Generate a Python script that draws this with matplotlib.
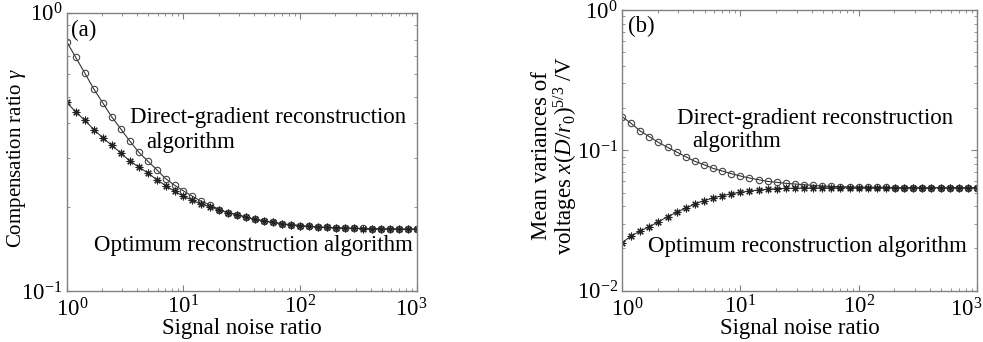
import numpy as np
import matplotlib
matplotlib.use("Agg")
import matplotlib.pyplot as plt
from matplotlib.ticker import LogLocator, LogFormatterMathtext, NullFormatter, FuncFormatter

plt.rcParams['font.family'] = ['Liberation Serif', 'DejaVu Serif']
plt.rcParams['mathtext.fontset'] = 'custom'
plt.rcParams['mathtext.rm'] = 'Liberation Serif'
plt.rcParams['mathtext.it'] = 'Liberation Serif:italic'
plt.rcParams['mathtext.bf'] = 'Liberation Serif:bold'

# Signal noise ratio samples (40 log-spaced points from 1 to 1000)
snr = np.logspace(0, 3, 40)
x_edge_ticks = [1, 1000]

# (a) Compensation ratio
comp_direct = [0.787, 0.691, 0.608, 0.533, 0.475, 0.423, 0.383, 0.3465, 0.316, 0.2935,
               0.2733, 0.2536, 0.240, 0.229, 0.219, 0.210, 0.204, 0.196, 0.191, 0.188,
               0.184, 0.181, 0.1786, 0.1766, 0.1742, 0.1732, 0.1718, 0.1708, 0.1699, 0.1693,
               0.1688, 0.1684, 0.1681, 0.1678, 0.1676, 0.1674, 0.1672, 0.1671, 0.1670, 0.1669]
comp_optimum = [0.476, 0.4406, 0.411, 0.3805, 0.356, 0.334, 0.3137, 0.2935, 0.2794, 0.266,
                0.2516, 0.2393, 0.2284, 0.219, 0.212, 0.205, 0.2006, 0.195, 0.1913, 0.188,
                0.184, 0.181, 0.1785, 0.1765, 0.1741, 0.1731, 0.1717, 0.1707, 0.1698, 0.1692,
                0.1687, 0.1683, 0.1680, 0.1677, 0.1675, 0.1673, 0.1672, 0.1671, 0.1670, 0.1669]

# (b) Mean variances of voltages
var_direct = [0.1738, 0.1558, 0.1374, 0.1252, 0.114, 0.1051, 0.0973, 0.0902, 0.0835, 0.0791,
              0.0744, 0.0713, 0.0682, 0.0657, 0.0635, 0.0618, 0.0601, 0.0592, 0.0582, 0.0576,
              0.0569, 0.0563, 0.0557, 0.0554, 0.0551, 0.0549, 0.0547, 0.0546, 0.0545, 0.0544,
              0.0543, 0.0543, 0.0542, 0.0542, 0.0542, 0.0542, 0.0542, 0.0542, 0.0542, 0.0542]
var_optimum = [0.02199, 0.02453, 0.02662, 0.0286, 0.031, 0.0337, 0.0362, 0.0388, 0.0415, 0.0438,
               0.0458, 0.0475, 0.0491, 0.0502, 0.0513, 0.0522, 0.0528, 0.0533, 0.0536, 0.0538,
               0.0539, 0.0540, 0.0540, 0.0541, 0.0541, 0.0541, 0.0541, 0.0542, 0.0542, 0.0542,
               0.0542, 0.0542, 0.0542, 0.0542, 0.0542, 0.0542, 0.0542, 0.0542, 0.0542, 0.0542]

FS = 16.5
line_col = '#333333'
spine_col = '#808080'

fig = plt.figure(figsize=(9.83, 3.42), dpi=100)
ax_a = fig.add_axes([0.0679, 0.149, 0.3563, 0.8137])
ax_b = fig.add_axes([0.6328, 0.150, 0.3611, 0.8207])

_mt = LogFormatterMathtext()


def inner_fmt(v, pos):
    # edge labels are drawn separately (shifted like the reference)
    if np.isclose(v, x_edge_ticks[0]) or np.isclose(v, x_edge_ticks[1]):
        return ''
    return _mt(v, pos)


def style(ax, ylim, shifts):
    ax.set_xscale('log')
    ax.set_yscale('log')
    ax.set_xlim(1, 1000)
    ax.set_ylim(*ylim)
    for s in ax.spines.values():
        s.set_color(spine_col)
        s.set_linewidth(1.0)
    ax.tick_params(which='both', direction='in', top=True, right=True,
                   colors=spine_col, labelcolor='black', labelsize=FS)
    ax.tick_params(which='major', length=4, width=0.8, pad=3)
    ax.tick_params(which='minor', length=2.5, width=0.6)
    ax.xaxis.set_major_locator(LogLocator(base=10, numticks=10))
    ax.yaxis.set_major_locator(LogLocator(base=10, numticks=10))
    ax.xaxis.set_minor_locator(LogLocator(base=10, subs=np.arange(2, 10), numticks=20))
    ax.yaxis.set_minor_locator(LogLocator(base=10, subs=np.arange(2, 10), numticks=20))
    ax.xaxis.set_major_formatter(FuncFormatter(inner_fmt))
    ax.yaxis.set_major_formatter(LogFormatterMathtext())
    ax.xaxis.set_minor_formatter(NullFormatter())
    ax.yaxis.set_minor_formatter(NullFormatter())
    for v, dx in zip(x_edge_ticks, shifts):
        ax.annotate(_mt(v), xy=(v, 0), xycoords=('data', 'axes fraction'),
                    xytext=(dx, -5.2), textcoords='offset points',
                    ha='center', va='top', fontsize=FS)
    ax.set_xlabel('Signal noise ratio', fontsize=FS, labelpad=0)


def plot_pair(ax, d, o):
    ax.plot(snr, d, '-', color=line_col, lw=0.8, marker='o', ms=4.6,
            mfc='none', mec='#444444', mew=0.8)
    ax.plot(snr, o, '-', color=line_col, lw=0.8, marker=(8, 2, 0), ms=5.5,
            mec='#222222', mew=0.8)


style(ax_a, (0.1, 1), (4, -4))
plot_pair(ax_a, comp_direct, comp_optimum)
ax_a.set_ylabel(r'Compensation ratio $\gamma$', fontsize=15)
ax_a.yaxis.set_label_coords(-0.110, 0.478)
ax_a.text(0.013, 0.938, '(a)', transform=ax_a.transAxes, fontsize=FS, va='center', ha='left')
ax_a.text(0.181, 0.622, 'Direct-gradient reconstruction', transform=ax_a.transAxes,
          fontsize=FS, va='center', ha='left')
ax_a.text(0.226, 0.535, 'algorithm', transform=ax_a.transAxes, fontsize=FS, va='center', ha='left')
ax_a.text(0.078, 0.165, 'Optimum reconstruction algorithm', transform=ax_a.transAxes,
          fontsize=FS, va='center', ha='left')

style(ax_b, (0.01, 1), (4, -8))
plot_pair(ax_b, var_direct, var_optimum)
ax_b.set_ylabel('Mean variances of\n' + r'voltages $x(D/r_0)^{5/3}$ /V', fontsize=FS,
                linespacing=1.0)
ax_b.yaxis.set_label_coords(-0.118, 0.483)
ax_b.text(0.017, 0.94, '(b)', transform=ax_b.transAxes, fontsize=FS, va='center', ha='left')
ax_b.text(0.155, 0.612, 'Direct-gradient reconstruction', transform=ax_b.transAxes,
          fontsize=FS, va='center', ha='left')
ax_b.text(0.197, 0.53, 'algorithm', transform=ax_b.transAxes, fontsize=FS, va='center', ha='left')
ax_b.text(0.073, 0.159, 'Optimum reconstruction algorithm', transform=ax_b.transAxes,
          fontsize=FS, va='center', ha='left')

fig.savefig('out.png', dpi=100)
